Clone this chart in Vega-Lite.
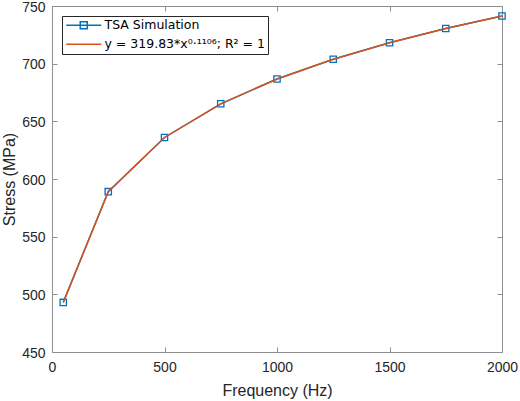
{
  "$schema": "https://vega.github.io/schema/vega-lite/v6.json",
  "width": 450,
  "height": 346,
  "autosize": {"type": "none"},
  "padding": {"left": 52, "top": 6, "right": 18, "bottom": 49},
  "background": "white",
  "datasets": {
    "stress": [
      {"kind": "sim", "series": "TSA Simulation", "freq": 50, "stress": 493.0},
      {"kind": "sim", "series": "TSA Simulation", "freq": 250, "stress": 589.0},
      {"kind": "sim", "series": "TSA Simulation", "freq": 500, "stress": 636.0},
      {"kind": "sim", "series": "TSA Simulation", "freq": 750, "stress": 665.2},
      {"kind": "sim", "series": "TSA Simulation", "freq": 1000, "stress": 686.7},
      {"kind": "sim", "series": "TSA Simulation", "freq": 1250, "stress": 703.8},
      {"kind": "sim", "series": "TSA Simulation", "freq": 1500, "stress": 718.1},
      {"kind": "sim", "series": "TSA Simulation", "freq": 1750, "stress": 730.5},
      {"kind": "sim", "series": "TSA Simulation", "freq": 2000, "stress": 741.3},
      {"kind": "fit", "series": "y = 319.83*x⁰·¹¹⁰⁶; R² = 1", "freq": 50, "stress": 493.0},
      {"kind": "fit", "series": "y = 319.83*x⁰·¹¹⁰⁶; R² = 1", "freq": 250, "stress": 589.0},
      {"kind": "fit", "series": "y = 319.83*x⁰·¹¹⁰⁶; R² = 1", "freq": 500, "stress": 636.0},
      {"kind": "fit", "series": "y = 319.83*x⁰·¹¹⁰⁶; R² = 1", "freq": 750, "stress": 665.2},
      {"kind": "fit", "series": "y = 319.83*x⁰·¹¹⁰⁶; R² = 1", "freq": 1000, "stress": 686.7},
      {"kind": "fit", "series": "y = 319.83*x⁰·¹¹⁰⁶; R² = 1", "freq": 1250, "stress": 703.8},
      {"kind": "fit", "series": "y = 319.83*x⁰·¹¹⁰⁶; R² = 1", "freq": 1500, "stress": 718.1},
      {"kind": "fit", "series": "y = 319.83*x⁰·¹¹⁰⁶; R² = 1", "freq": 1750, "stress": 730.5},
      {"kind": "fit", "series": "y = 319.83*x⁰·¹¹⁰⁶; R² = 1", "freq": 2000, "stress": 741.3}
    ]
  },
  "data": {"name": "stress"},
  "layer": [
    {
      "transform": [{"filter": "datum.kind === 'sim'"}],
      "mark": {"type": "line", "strokeWidth": 1.5},
      "encoding": {
        "x": {
          "field": "freq", "type": "quantitative",
          "scale": {"domain": [0, 2000], "nice": false, "zero": false},
          "axis": {"title": "Frequency (Hz)", "values": [0, 500, 1000, 1500, 2000], "format": "d", "labelFlush": false, "labelPadding": 13, "titlePadding": 8}
        },
        "y": {
          "field": "stress", "type": "quantitative",
          "scale": {"domain": [450, 750], "nice": false, "zero": false},
          "axis": {"title": "Stress (MPa)", "values": [450, 500, 550, 600, 650, 700, 750], "format": "d", "labelFlush": false, "labelOffset": 1, "labelPadding": 12, "titlePadding": 4}
        },
        "color": {
          "field": "series", "type": "nominal",
          "scale": {
            "domain": ["TSA Simulation", "y = 319.83*x⁰·¹¹⁰⁶; R² = 1"],
            "range": ["#0072BD", "#D95319"]
          },
          "legend": {
            "title": null,
            "orient": "top-left",
            "offset": 10,
            "padding": 3,
            "rowPadding": 6,
            "fillColor": "white",
            "strokeColor": "#262626",
            "symbolSize": 100,
            "symbolStrokeWidth": 1.5,
            "labelOffset": 27,
            "labelLimit": 400,
            "labelFont": "DejaVu Sans",
            "labelFontSize": 12.5,
            "labelColor": "#000000",
            "labelExpr": "datum.label + '\u00a0\u00a0\u00a0\u00a0'",
            "encode": {
              "symbols": {
                "update": {
                  "shape": {"signal": "datum.value === 'TSA Simulation' ? 'M-1,0H6M1.8,-0.7H3.2V0.7H1.8Z' : 'M-1,0H6'"},
                  "fill": {"value": "transparent"}
                }
              }
            }
          }
        }
      }
    },
    {
      "transform": [{"filter": "datum.kind === 'sim'"}],
      "mark": {"type": "point", "shape": "square", "filled": false, "size": 40, "strokeWidth": 1.3, "color": "#0072BD", "opacity": 1},
      "encoding": {
        "x": {"field": "freq", "type": "quantitative", "scale": {"domain": [0, 2000], "nice": false, "zero": false}, "axis": {"orient": "top", "labels": false, "title": null, "values": [0, 500, 1000, 1500, 2000]}},
        "y": {"field": "stress", "type": "quantitative", "scale": {"domain": [450, 750], "nice": false, "zero": false}, "axis": {"orient": "right", "labels": false, "title": null, "values": [450, 500, 550, 600, 650, 700, 750]}}
      }
    },
    {
      "transform": [{"filter": "datum.kind === 'fit'"}],
      "mark": {"type": "line", "strokeWidth": 1.5},
      "encoding": {
        "x": {"field": "freq", "type": "quantitative", "scale": {"domain": [0, 2000], "nice": false, "zero": false}, "axis": null},
        "y": {"field": "stress", "type": "quantitative", "scale": {"domain": [450, 750], "nice": false, "zero": false}, "axis": null},
        "color": {"field": "series", "type": "nominal"}
      }
    }
  ],
  "resolve": {"axis": {"x": "independent", "y": "independent"}},
  "config": {
    "font": "Liberation Sans",
    "view": {"stroke": "#8f8f8f", "strokeWidth": 1},
    "axis": {
      "domain": false,
      "grid": false,
      "tickColor": "#8f8f8f",
      "tickSize": -5,
      "labelColor": "#262626",
      "labelFont": "Liberation Sans",
      "labelFontSize": 14,
      "titleFont": "Liberation Sans",
      "titleFontSize": 16,
      "titleFontWeight": "normal",
      "titleColor": "#262626"
    }
  }
}
